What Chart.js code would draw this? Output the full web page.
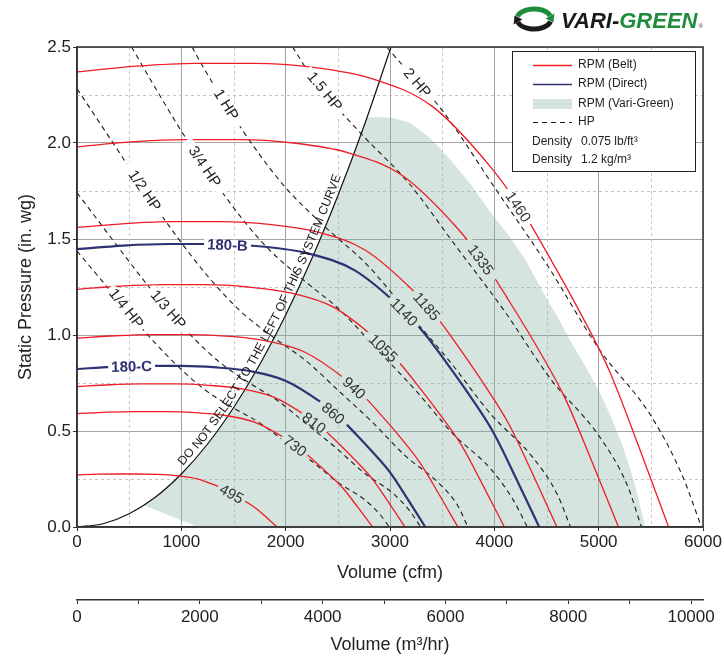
<!DOCTYPE html>
<html>
<head>
<meta charset="utf-8">
<title>Fan performance</title>
<script src="https://cdn.jsdelivr.net/npm/chart.js"></script>
<style>
  html, body { margin: 0; padding: 0; background: #fff; }
</style>
</head>
<body>
<canvas id="fanChart" width="724" height="661"></canvas>
<script>
// values: volume in cfm, static pressure in in. wg

var CMH_PER_CFM = 1.699;
var cmhTicks = [0, 1000, 2000, 3000, 4000, 5000, 6000, 7000, 8000, 9000, 10000];

// belt drive rpm curves
var belt1460 = [[0,2.37],[567,2.40],[1134,2.415],[1701,2.415],[2268,2.394],[2835,2.334],[3402,2.192],[3969,1.872],[4253,1.659],[4536,1.398],[4820,1.119],[5103,0.813],[5387,0.415],[5670,0]];
var belt1335 = [[0,1.98],[519,2.006],[1038,2.018],[1557,2.018],[2076,2.0],[2595,1.95],[3114,1.832],[3633,1.564],[3893,1.386],[4152,1.168],[4412,0.935],[4671,0.679],[4931,0.347],[5190,0]];
var belt1185 = [[0,1.56],[460,1.58],[920,1.59],[1380,1.59],[1840,1.576],[2300,1.537],[2760,1.443],[3220,1.232],[3450,1.092],[3680,0.92],[3910,0.736],[4140,0.535],[4370,0.273],[4600,0]];
var belt1055 = [[0,1.238],[410,1.254],[819,1.262],[1229,1.262],[1638,1.25],[2048,1.219],[2458,1.145],[2867,0.978],[3072,0.867],[3277,0.73],[3482,0.584],[3686,0.425],[3891,0.217],[4096,0]];
var belt940 = [[0,0.983],[365,0.996],[730,1.002],[1095,1.002],[1460,0.993],[1825,0.968],[2190,0.909],[2555,0.777],[2738,0.688],[2920,0.58],[3103,0.464],[3285,0.337],[3468,0.172],[3650,0]];
var belt810 = [[0,0.731],[314,0.741],[629,0.745],[943,0.745],[1258,0.738],[1572,0.72],[1886,0.676],[2201,0.577],[2358,0.512],[2515,0.431],[2672,0.345],[2830,0.251],[2987,0.128],[3144,0]];
var belt730 = [[0,0.59],[283,0.598],[567,0.601],[850,0.601],[1133,0.596],[1417,0.581],[1700,0.546],[1983,0.466],[2125,0.413],[2266,0.348],[2408,0.278],[2550,0.202],[2691,0.103],[2833,0]];
var belt495 = [[0,0.271],[192,0.275],[384,0.276],[575,0.276],[767,0.274],[959,0.267],[1151,0.251],[1343,0.214],[1439,0.19],[1534,0.16],[1630,0.128],[1726,0.093],[1822,0.047],[1918,0]];

// direct drive curves
var direct1140 = [[0,1.447],[443,1.466],[886,1.474],[1329,1.474],[1772,1.461],[2215,1.425],[2658,1.338],[3101,1.143],[3323,1.013],[3544,0.854],[3766,0.683],[3987,0.496],[4209,0.253],[4430,0]];
var direct860 = [[0,0.823],[334,0.834],[668,0.839],[1001,0.839],[1335,0.831],[1669,0.811],[2003,0.761],[2337,0.65],[2504,0.576],[2670,0.486],[2837,0.388],[3004,0.282],[3171,0.144],[3338,0]];

// horsepower lines
var hp2 = [[2970,2.5],[3000,2.48],[3500,2.17],[4000,1.77],[4500,1.37],[5000,0.93],[5500,0.58],[5800,0.27],[5985,0]];
var hp1_5 = [[2066,2.5],[2272,2.328],[2726,2.047],[3180,1.791],[3634,1.461],[4089,1.131],[4543,0.768],[4997,0.479],[5270,0.223],[5410,0]];
var hp1 = [[1103,2.5],[1191,2.413],[1587,2.066],[1984,1.777],[2381,1.562],[2778,1.367],[3175,1.115],[3572,0.863],[3969,0.586],[4365,0.365],[4603,0.17],[4730,0]];
var hp3_4 = [[523,2.5],[721,2.314],[1082,1.992],[1442,1.706],[1803,1.466],[2163,1.29],[2524,1.128],[2884,0.92],[3245,0.712],[3606,0.484],[3966,0.302],[4182,0.14],[4316,0]];
var hp1_2 = [[0,2.283],[315,2.025],[630,1.767],[945,1.521],[1260,1.302],[1575,1.12],[1890,0.985],[2205,0.861],[2520,0.703],[2835,0.544],[3150,0.369],[3465,0.23],[3654,0.107],[3745,0]];
var hp1_3 = [[0,1.741],[275,1.544],[550,1.347],[825,1.16],[1101,0.993],[1376,0.854],[1651,0.751],[1926,0.657],[2201,0.536],[2476,0.415],[2752,0.282],[3027,0.176],[3192,0.082],[3294,0]];
var hp1_4 = [[0,1.4375],[250,1.275],[500,1.1125],[750,0.9575],[1000,0.82],[1250,0.705],[1500,0.62],[1750,0.5425],[2000,0.4425],[2250,0.3425],[2500,0.2325],[2750,0.145],[2900,0.0675],[2993,0]];

// system curve and the vari-green selection area
var systemCurve = [[0,0],[250,0.017],[500,0.069],[750,0.155],[1000,0.276],[1250,0.431],[1500,0.621],[1750,0.845],[2000,1.104],[2250,1.397],[2500,1.725],[2750,2.087],[3010,2.5]];
var greenTop = [[640,0.113],[750,0.155],[1000,0.276],[1250,0.431],[1500,0.621],[1750,0.845],[2000,1.104],[2250,1.397],[2500,1.725],[2650,1.938],[2780,2.133],[2900,2.135],[3030,2.13],[3190,2.105],[3350,2.04],[3450,1.99],[3600,1.9],[3780,1.78],[3960,1.64],[4150,1.51],[4300,1.39],[4470,1.22],[4600,1.1],[4725,0.974],[4870,0.84],[5013,0.698],[5130,0.56],[5233,0.417],[5310,0.29],[5368,0.177],[5410,0.08],[5445,0]];
var greenBottom = [[640,0.113],[800,0.08],[950,0.045],[1080,0.018],[1150,0],[5445,0]];

// curve tags: text, from (cfm, sp), to (cfm, sp), background
var beltTags = [
  ['1460', 4119, 1.759, 4342, 1.577, 'w'],
  ['1335', 3735, 1.494, 4007, 1.29, 'g'],
  ['1185', 3224, 1.229, 3479, 1.07, 'g'],
  ['1055', 2780, 1.013, 3096, 0.851, 'g'],
  ['940', 2537, 0.784, 2777, 0.665, 'g'],
  ['810', 2154, 0.592, 2393, 0.494, 'g'],
  ['730', 1977, 0.468, 2202, 0.378, 'g'],
  ['495', 1354, 0.211, 1610, 0.135, 'g']
];
var directTags = [
  ['1140', 3000, 1.197, 3271, 1.043, 'g'],
  ['860', 2329, 0.653, 2585, 0.532, 'g'],
  ['180-B', 1243, 1.474, 1642, 1.465, 'w'],
  ['180-C', 316, 0.834, 731, 0.839, 'w']
];
var hpTags = [
  ['2 HP', 3130, 2.40, 3400, 2.23, 'w'],
  ['1.5 HP', 2204, 2.385, 2550, 2.155, 'w'],
  ['1 HP', 1304, 2.314, 1562, 2.088, 'w'],
  ['3/4 HP', 1054, 2.017, 1400, 1.739, 'w'],
  ['1/2 HP', 479, 1.891, 824, 1.616, 'w'],
  ['1/3 HP', 700, 1.245, 1054, 1.022, 'w'],
  ['1/4 HP', 316, 1.249, 633, 1.03, 'w']
];
var systemText = 'DO NOT SELECT TO THE LEFT OF THIS SYSTEM CURVE';

var RED = '#ee1c25';
var NAVY = '#2e3272';
var DASH = '#1c1c1c';
var GREEN_FILL = 'rgba(135,178,161,0.35)';
var GREEN_BG = 'rgb(213,228,222)';
var FONT = '"Liberation Sans", Arial, Helvetica, sans-serif';

Chart.defaults.font.family = FONT;
Chart.defaults.color = '#222';

function pts(a) {
  return a.map(function (p) { return { x: p[0], y: p[1] }; });
}

function curve(arr, color, width, order, dash) {
  return {
    data: pts(arr),
    borderColor: color,
    borderWidth: width,
    borderDash: dash || [],
    order: order,
    showLine: true,
    pointRadius: 0,
    fill: false,
    cubicInterpolationMode: 'monotone'
  };
}

var datasets = [
  {
    data: pts(greenTop), showLine: true, pointRadius: 0, order: 20, tension: 0,
    borderColor: 'transparent', borderWidth: 0,
    backgroundColor: GREEN_FILL, fill: { target: 1 }
  },
  {
    data: pts(greenBottom), showLine: true, pointRadius: 0, order: 21, tension: 0,
    borderColor: 'transparent', borderWidth: 0, fill: false
  },
  curve(systemCurve, '#111', 1.2, 6),
  curve(hp2, DASH, 1.1, 5, [5, 4]),
  curve(hp1_5, DASH, 1.1, 5, [5, 4]),
  curve(hp1, DASH, 1.1, 5, [5, 4]),
  curve(hp3_4, DASH, 1.1, 5, [5, 4]),
  curve(hp1_2, DASH, 1.1, 5, [5, 4]),
  curve(hp1_3, DASH, 1.1, 5, [5, 4]),
  curve(hp1_4, DASH, 1.1, 5, [5, 4]),
  curve(belt1460, RED, 1.3, 4),
  curve(belt1335, RED, 1.3, 4),
  curve(belt1185, RED, 1.3, 4),
  curve(belt1055, RED, 1.3, 4),
  curve(belt940, RED, 1.3, 4),
  curve(belt810, RED, 1.3, 4),
  curve(belt730, RED, 1.3, 4),
  curve(belt495, RED, 1.3, 4),
  curve(direct1140, NAVY, 2.2, 3),
  curve(direct860, NAVY, 2.2, 3)
];
var SYSTEM_INDEX = 2;

// tag sitting in a gap of its curve
function drawTag(ctx, xs, ys, tag, font, color) {
  var ax = xs.getPixelForValue(tag[1]), ay = ys.getPixelForValue(tag[2]);
  var bx = xs.getPixelForValue(tag[3]), by = ys.getPixelForValue(tag[4]);
  var ang = Math.atan2(by - ay, bx - ax);
  var d = Math.hypot(bx - ax, by - ay);
  ctx.save();
  ctx.translate((ax + bx) / 2, (ay + by) / 2);
  ctx.rotate(ang);
  ctx.font = font;
  var w = ctx.measureText(tag[0]).width;
  var gap = Math.max(d, w + 6);
  ctx.fillStyle = tag[5] === 'g' ? GREEN_BG : '#fff';
  ctx.fillRect(-gap / 2, -5, gap, 10);
  ctx.fillStyle = color;
  ctx.textAlign = 'center';
  ctx.textBaseline = 'middle';
  ctx.fillText(tag[0], 0, 1);
  ctx.restore();
}

// text following the system curve, on its upper-left side
function drawAlongCurve(ctx, p, text, startX, offset) {
  var segs = [], total = 0;
  for (var i = 1; i < p.length; i++) {
    var dx = p[i].x - p[i - 1].x, dy = p[i].y - p[i - 1].y;
    var len = Math.hypot(dx, dy);
    segs.push({ x0: p[i - 1].x, y0: p[i - 1].y, dx: dx, dy: dy, len: len, s0: total });
    total += len;
  }
  function pos(s) {
    var sg = segs[segs.length - 1];
    for (var k = 0; k < segs.length; k++) {
      if (s < segs[k].s0 + segs[k].len) { sg = segs[k]; break; }
    }
    var t = (s - sg.s0) / sg.len;
    return { x: sg.x0 + sg.dx * t, y: sg.y0 + sg.dy * t };
  }
  var s = 0;
  for (var k = 0; k < segs.length; k++) {
    var g = segs[k];
    if (startX >= g.x0 && startX <= g.x0 + g.dx) {
      s = g.s0 + g.len * (startX - g.x0) / g.dx;
      break;
    }
  }
  ctx.save();
  ctx.fillStyle = '#1a1a1a';
  ctx.font = '12.3px ' + FONT;
  ctx.textAlign = 'center';
  ctx.textBaseline = 'alphabetic';
  for (var c = 0; c < text.length; c++) {
    var ch = text[c];
    var w = ctx.measureText(ch).width;
    var mid = s + w / 2;
    var a = pos(mid - 6), b = pos(mid + 6), m = pos(mid);
    var ux = b.x - a.x, uy = b.y - a.y, ul = Math.hypot(ux, uy);
    ux /= ul; uy /= ul;
    ctx.save();
    ctx.translate(m.x + uy * offset, m.y - ux * offset);
    ctx.rotate(Math.atan2(uy, ux));
    ctx.fillText(ch, 0, 0);
    ctx.restore();
    s += w;
  }
  ctx.restore();
}

var background = {
  id: 'background',
  beforeDraw: function (chart) {
    var ctx = chart.ctx;
    ctx.save();
    ctx.fillStyle = '#fff';
    ctx.fillRect(0, 0, chart.width, chart.height);
    ctx.restore();
  }
};

var minorGrid = {
  id: 'minorGrid',
  beforeDatasetsDraw: function (chart) {
    var ctx = chart.ctx, a = chart.chartArea;
    var xs = chart.scales.x, ys = chart.scales.y;
    ctx.save();
    ctx.strokeStyle = '#c6c6c6';
    ctx.lineWidth = 1;
    ctx.setLineDash([3, 3]);
    for (var v = 500; v < 6000; v += 1000) {
      var px = Math.round(xs.getPixelForValue(v)) + 0.5;
      ctx.beginPath(); ctx.moveTo(px, a.top); ctx.lineTo(px, a.bottom); ctx.stroke();
    }
    for (var q = 0.25; q < 2.5; q += 0.5) {
      var py = Math.round(ys.getPixelForValue(q)) + 0.5;
      ctx.beginPath(); ctx.moveTo(a.left, py); ctx.lineTo(a.right, py); ctx.stroke();
    }
    ctx.restore();
  }
};

var annotations = {
  id: 'annotations',
  afterDatasetsDraw: function (chart) {
    var ctx = chart.ctx, a = chart.chartArea;
    var xs = chart.scales.x, ys = chart.scales.y;

    ctx.save();
    ctx.beginPath();
    ctx.rect(a.left, a.top, a.width, a.height);
    ctx.clip();
    beltTags.forEach(function (t) { drawTag(ctx, xs, ys, t, '15px ' + FONT, '#333'); });
    directTags.forEach(function (t) {
      var bold = t[0].indexOf('180') === 0;
      drawTag(ctx, xs, ys, t, (bold ? 'bold ' : '') + '15px ' + FONT, bold ? NAVY : '#333');
    });
    hpTags.forEach(function (t) { drawTag(ctx, xs, ys, t, '15px ' + FONT, '#222'); });
    var sys = chart.getDatasetMeta(SYSTEM_INDEX).data.map(function (e) { return { x: e.x, y: e.y }; });
    drawAlongCurve(ctx, sys, systemText, xs.getPixelForValue(1045), 4);
    ctx.restore();

    ctx.save();
    ctx.strokeStyle = '#333';
    ctx.lineWidth = 1.5;
    ctx.strokeRect(a.left, a.top, a.width, a.height);
    ctx.restore();
  }
};

var legendAndLogo = {
  id: 'legendAndLogo',
  afterDraw: function (chart) {
    var ctx = chart.ctx;
    ctx.save();
    // legend box
    ctx.fillStyle = '#fff';
    ctx.fillRect(512, 51, 183, 121);
    ctx.strokeStyle = '#222';
    ctx.lineWidth = 1;
    ctx.strokeRect(512.5, 51.5, 183, 120);

    ctx.lineWidth = 1.3;
    ctx.strokeStyle = RED;
    ctx.beginPath(); ctx.moveTo(533, 65.5); ctx.lineTo(572, 65.5); ctx.stroke();
    ctx.strokeStyle = NAVY;
    ctx.beginPath(); ctx.moveTo(533, 84.5); ctx.lineTo(572, 84.5); ctx.stroke();
    ctx.fillStyle = GREEN_BG;
    ctx.fillRect(533, 99, 39, 10);
    ctx.strokeStyle = DASH;
    ctx.lineWidth = 1.1;
    ctx.setLineDash([5, 4]);
    ctx.beginPath(); ctx.moveTo(533, 122.5); ctx.lineTo(572, 122.5); ctx.stroke();
    ctx.setLineDash([]);

    ctx.fillStyle = '#222';
    ctx.font = '12px ' + FONT;
    ctx.textBaseline = 'middle';
    ctx.textAlign = 'left';
    ctx.fillText('RPM (Belt)', 578, 65);
    ctx.fillText('RPM (Direct)', 578, 84);
    ctx.fillText('RPM (Vari-Green)', 578, 104);
    ctx.fillText('HP', 578, 122);
    ctx.fillText('Density', 532, 142);
    ctx.fillText('0.075 lb/ft\u00b3', 581, 142);
    ctx.fillText('Density', 532, 160);
    ctx.fillText('1.2 kg/m\u00b3', 581, 160);

    // logo: two turning arrows and the name
    ctx.lineWidth = 5;
    ctx.strokeStyle = '#1f8c3c';
    ctx.beginPath(); ctx.ellipse(534, 19, 17, 10, 0, Math.PI * 1.08, Math.PI * 1.9); ctx.stroke();
    ctx.fillStyle = '#1f8c3c';
    ctx.beginPath(); ctx.moveTo(545.6, 18.4); ctx.lineTo(554.4, 13.6); ctx.lineTo(553.4, 22.5); ctx.closePath(); ctx.fill();
    ctx.strokeStyle = '#1a1a1a';
    ctx.beginPath(); ctx.ellipse(534, 19, 17, 10, 0, Math.PI * 0.08, Math.PI * 0.9); ctx.stroke();
    ctx.fillStyle = '#1a1a1a';
    ctx.beginPath(); ctx.moveTo(522.4, 19.6); ctx.lineTo(513.6, 24.4); ctx.lineTo(514.6, 15.5); ctx.closePath(); ctx.fill();

    ctx.font = 'italic bold 22px ' + FONT;
    ctx.textBaseline = 'alphabetic';
    ctx.fillStyle = '#1a1a1a';
    ctx.fillText('VARI-', 561, 28);
    var w = ctx.measureText('VARI-').width;
    ctx.fillStyle = '#1f8c3c';
    ctx.fillText('GREEN', 561 + w, 28);
    var w2 = ctx.measureText('GREEN').width;
    ctx.font = '6px ' + FONT;
    ctx.fillStyle = '#1a1a1a';
    ctx.fillText('\u00ae', 561 + w + w2 + 1, 28);
    ctx.restore();
  }
};

new Chart(document.getElementById('fanChart').getContext('2d'), {
  type: 'scatter',
  data: { datasets: datasets },
  options: {
    responsive: false,
    animation: false,
    events: [],
    layout: { padding: { top: 47, right: 21, left: 0, bottom: 0 } },
    plugins: { legend: { display: false }, tooltip: { enabled: false } },
    scales: {
      x: {
        type: 'linear', position: 'bottom', min: 0, max: 6000, weight: 0,
        ticks: { stepSize: 1000, font: { size: 17 }, padding: 1, maxRotation: 0,
          callback: function (v) { return String(v); } },
        grid: { color: '#a3a3a3', tickLength: 4, tickColor: '#333' },
        border: { color: '#333', width: 1.5 },
        title: { display: true, text: 'Volume (cfm)', font: { size: 18 }, padding: { top: 0, bottom: 16 } },
        afterFit: function (s) { s.height = 73; }
      },
      x2: {
        type: 'linear', position: 'bottom', min: 0, max: 6000 * CMH_PER_CFM, weight: 1,
        afterBuildTicks: function (s) {
          s.ticks = cmhTicks.map(function (v) { return { value: v }; });
        },
        ticks: { autoSkip: false, maxRotation: 0, font: { size: 17 }, padding: 3,
          callback: function (v) { return v % 2000 === 0 ? String(v) : ''; } },
        grid: { drawOnChartArea: false, tickLength: 4, color: '#333' },
        border: { color: '#333', width: 1.5 },
        title: { display: true, text: 'Volume (m\u00b3/hr)', font: { size: 18 }, padding: { top: 0, bottom: 5 } },
        afterFit: function (s) { s.height = 61; }
      },
      y: {
        min: 0, max: 2.5,
        ticks: { stepSize: 0.5, font: { size: 17 }, padding: 2,
          callback: function (v) { return v.toFixed(1); } },
        grid: { color: '#a3a3a3', tickLength: 4, tickColor: '#333' },
        border: { color: '#333', width: 1.5 },
        title: { display: true, text: 'Static Pressure (in. wg)', font: { size: 18 }, padding: { top: 15, bottom: 0 } },
        afterFit: function (s) { s.width = 77; }
      }
    }
  },
  plugins: [background, minorGrid, annotations, legendAndLogo]
});
</script>
</body>
</html>
